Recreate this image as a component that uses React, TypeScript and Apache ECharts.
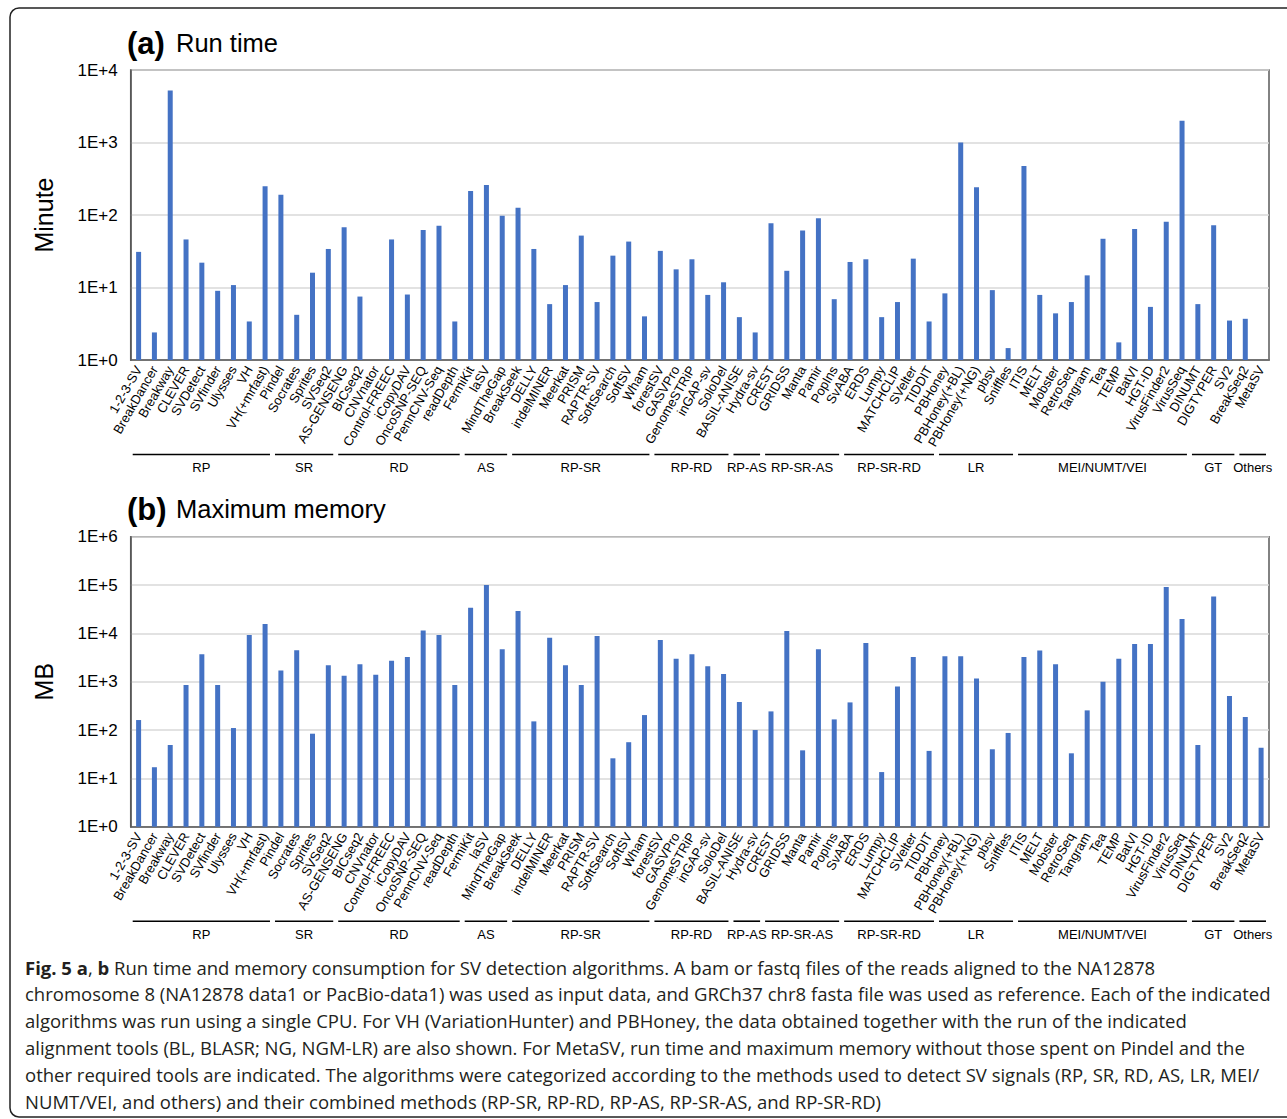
import React, { useEffect, useRef } from 'react';
import * as echarts from 'echarts';

const categories = [
  '1-2-3-SV', 'BreakDancer', 'Breakway', 'CLEVER', 'SVDetect', 'SVfinder', 'Ulysses', 'VH', 'VH(+mrfast)',
  'Pindel', 'Socrates', 'Sprites', 'SVSeq2',
  'AS-GENSENG', 'BICseq2', 'CNVnator', 'Control-FREEC', 'iCopyDAV', 'OncoSNP-SEQ', 'PennCNV-Seq', 'readDepth',
  'FermiKit', 'laSV', 'MindTheGap',
  'BreakSeek', 'DELLY', 'indelMINER', 'Meerkat', 'PRISM', 'RAPTR-SV', 'SoftSearch', 'SoftSV', 'Wham',
  'forestSV', 'GASVPro', 'GenomeSTRiP', 'inGAP-sv', 'SoloDel',
  'BASIL-ANISE', 'Hydra-sv',
  'CREST', 'GRIDSS', 'Manta', 'Pamir', 'PopIns',
  'SvABA', 'ERDS', 'Lumpy', 'MATCHCLIP', 'SVelter', 'TIDDIT',
  'PBHoney', 'PBHoney(+BL)', 'PBHoney(+NG)', 'pbsv', 'Sniffles',
  'ITIS', 'MELT', 'Mobster', 'RetroSeq', 'Tangram', 'Tea', 'TEMP', 'BatVI', 'HGT-ID', 'VirusFinder2', 'VirusSeq',
  'DINUMT', 'DIGTYPER', 'SV2',
  'BreakSeq2', 'MetaSV',
];

// Run time (minutes); null = no bar
const runTimeMinutes: (number | null)[] = [
  31, 2.4, 5200, 46, 22, 9, 10.8, 3.4, 250,
  190, 4.2, 16, 34,
  68, 7.5, null, 46, 8, 62, 71, 3.4,
  214, 259, 98,
  126, 34, 5.9, 10.8, 52, 6.3, 27.5, 43, 4,
  32, 17.8, 24.5, 7.9, 11.8,
  3.9, 2.4,
  77, 17, 61, 90, 6.9,
  22.5, 24.5, 3.9, 6.3, 25, 3.4,
  8.3, 1000, 241, 9.2, 1.46,
  474, 7.9, 4.4, 6.3, 14.7, 47, 1.75, 64, 5.4, 81, 2000,
  5.9, 72, 3.5,
  3.7, null,
];

// Maximum memory (MB)
const maxMemoryMB: number[] = [
  161, 17, 49, 850, 3700, 850, 110, 9200, 15600,
  1700, 4500, 84, 2200,
  1330, 2300, 1400, 2700, 3250, 11500, 9200, 850,
  34000, 100000, 4700,
  29000, 151, 8100, 2200, 850, 8800, 26, 56, 204,
  7300, 3000, 3700, 2100, 1440,
  380, 100,
  243, 11200, 38, 4700, 166,
  373, 6300, 13.5, 800, 3250, 37,
  3350, 3350, 1170, 40, 87,
  3250, 4400, 2300, 33, 255, 1000, 3000, 6000, 6000, 91000, 19800,
  49, 58000, 505,
  186, 43,
];

const groupNames = ['RP', 'SR', 'RD', 'AS', 'RP-SR', 'RP-RD', 'RP-AS', 'RP-SR-AS', 'RP-SR-RD', 'LR', 'MEI/NUMT/VEI', 'GT', 'Others'];
const groupSizes = [9, 4, 8, 3, 9, 5, 2, 5, 6, 5, 11, 3, 2];

const runTimeTicks = ['1E+0', '1E+1', '1E+2', '1E+3', '1E+4'];
const memoryTicks = ['1E+0', '1E+1', '1E+2', '1E+3', '1E+4', '1E+5', '1E+6'];

const captionLines = [
  '{b|Fig. 5 a}, {b|b} Run time and memory consumption for SV detection algorithms. A bam or fastq files of the reads aligned to the NA12878',
  'chromosome 8 (NA12878 data1 or PacBio-data1) was used as input data, and GRCh37 chr8 fasta file was used as reference. Each of the indicated',
  'algorithms was run using a single CPU. For VH (VariationHunter) and PBHoney, the data obtained together with the run of the indicated',
  'alignment tools (BL, BLASR; NG, NGM-LR) are also shown. For MetaSV, run time and maximum memory without those spent on Pindel and the',
  'other required tools are indicated. The algorithms were categorized according to the methods used to detect SV signals (RP, SR, RD, AS, LR, MEI/',
  'NUMT/VEI, and others) and their combined methods (RP-SR, RP-RD, RP-AS, RP-SR-AS, and RP-SR-RD)',
];

const FONT = "'Liberation Sans', Arial, Helvetica, sans-serif";
const CAPTION_FONT = "'Open Sans', 'Noto Sans', sans-serif";
const BAR = '#4472C4';

export default function App() {
  const ref = useRef<HTMLDivElement>(null);

  useEffect(() => {
    document.body.style.margin = '0';
    const chart = echarts.init(ref.current as HTMLDivElement, null, { renderer: 'svg' });

    const gridLeft = 130.7;
    const gridRightX = 1269;
    const catW = (gridRightX - gridLeft) / categories.length;
    const panels = [
      { top: 70, height: 290, title: '(a)', sub: 'Run time', name: 'Minute', ticks: runTimeTicks, data: runTimeMinutes, max: 1e4, titleY: 43 },
      { top: 536.7, height: 290, title: '(b)', sub: 'Maximum memory', name: 'MB', ticks: memoryTicks, data: maxMemoryMB, max: 1e6, titleY: 509 },
    ];

    const graphics: any[] = [
      {
        type: 'rect',
        shape: { x: 10, y: 8, width: 1290, height: 1109, r: 9 },
        style: { fill: 'none', stroke: '#222', lineWidth: 1.5 },
        silent: true,
      },
    ];

    panels.forEach((p) => {
      graphics.push({
        type: 'text', x: 127, y: p.titleY,
        style: { text: p.title, fontSize: 31, fontWeight: 'bold', fontFamily: FONT, fill: '#000', textVerticalAlign: 'middle' },
      });
      graphics.push({
        type: 'text', x: 176, y: p.titleY,
        style: { text: p.sub, fontSize: 25.5, fontFamily: FONT, fill: '#000', textVerticalAlign: 'middle' },
      });
      graphics.push({
        type: 'text', x: 44, y: p.top + p.height / 2, rotation: Math.PI / 2,
        style: { text: p.name, fontSize: 25, fontFamily: FONT, fill: '#000', textAlign: 'center', textVerticalAlign: 'middle' },
      });
      const lineY = p.top + p.height + 94.5;
      let start = 0;
      groupSizes.forEach((n, gi) => {
        const x1 = gridLeft + start * catW + 2;
        const x2 = gridLeft + (start + n) * catW - 3;
        graphics.push({
          type: 'line',
          shape: { x1, y1: lineY, x2, y2: lineY },
          style: { stroke: '#000', lineWidth: 1.6 },
        });
        graphics.push({
          type: 'text', x: (x1 + x2) / 2, y: lineY + 13,
          style: { text: groupNames[gi], fontSize: 13, fontFamily: FONT, fill: '#000', textAlign: 'center', textVerticalAlign: 'middle' },
        });
        start += n;
      });
    });

    captionLines.forEach((line, i) => {
      graphics.push({
        type: 'text', x: 25, y: 967 + i * 26.8,
        style: {
          text: line,
          fontSize: 18.5,
          fontFamily: CAPTION_FONT,
          fill: '#231f20',
          textVerticalAlign: 'middle',
          rich: { b: { fontWeight: 'bold', fontSize: 18.5, fontFamily: CAPTION_FONT, fill: '#231f20' } },
        },
      });
    });

    chart.setOption({
      animation: false,
      textStyle: { fontFamily: FONT },
      grid: panels.map((p) => ({
        left: gridLeft,
        right: 1287 - gridRightX,
        top: p.top,
        height: p.height,
        show: true,
        borderColor: '#595959',
        borderWidth: 1.5,
        backgroundColor: 'transparent',
        containLabel: false,
      })),
      xAxis: panels.map((_, i) => ({
        type: 'category',
        gridIndex: i,
        data: categories,
        boundaryGap: true,
        axisLine: { show: true, lineStyle: { color: '#595959', width: 1.5 } },
        axisTick: { show: false },
        axisLabel: { interval: 0, rotate: 60, fontSize: 13, color: '#000', margin: 7, fontFamily: FONT },
        splitLine: { show: false },
      })),
      yAxis: panels.map((p, i) => ({
        type: 'log',
        logBase: 10,
        gridIndex: i,
        min: 1,
        max: p.max,
        axisLine: { show: true, lineStyle: { color: '#595959', width: 1.5 } },
        axisTick: { show: false },
        splitLine: { show: true, lineStyle: { color: '#d9d9d9', width: 1.5 } },
        axisLabel: {
          fontSize: 17,
          color: '#000',
          margin: 13,
          fontFamily: FONT,
          formatter: (v: number) => p.ticks[Math.round(Math.log10(v))] ?? '',
        },
      })),
      series: panels.map((p, i) => ({
        type: 'bar',
        xAxisIndex: i,
        yAxisIndex: i,
        barWidth: 5,
        data: p.data.map((v) => (v == null ? '-' : v)),
        itemStyle: { color: BAR },
      })),
      graphic: graphics,
    });

    return () => chart.dispose();
  }, []);

  return <div ref={ref} style={{ width: 1287, height: 1119 }} />;
}
